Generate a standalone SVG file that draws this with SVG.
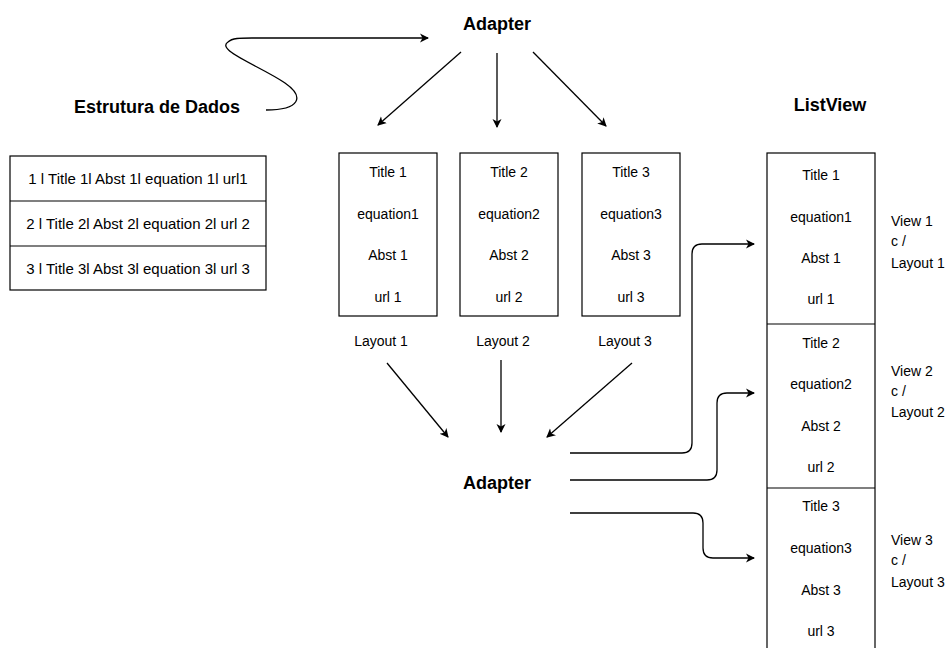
<svg xmlns="http://www.w3.org/2000/svg" width="948" height="648" viewBox="0 0 948 648">
<defs>
<marker id="ah" markerWidth="10" markerHeight="10" refX="8" refY="5" orient="auto" markerUnits="userSpaceOnUse">
<path d="M0,0.5 L9,5 L0,9.5 L2.5,5 Z" fill="#000"/>
</marker>
<style>
.t{font-family:"Liberation Sans",Arial,Helvetica,sans-serif;font-size:14px;fill:#000;text-anchor:middle}
.tt{font-family:"Liberation Sans",Arial,Helvetica,sans-serif;font-size:15px;fill:#000;text-anchor:middle}
.l{font-family:"Liberation Sans",Arial,Helvetica,sans-serif;font-size:14px;fill:#000;text-anchor:start}
.b{font-family:"Liberation Sans",Arial,Helvetica,sans-serif;font-size:18px;font-weight:bold;fill:#000;text-anchor:middle}
.box{fill:#fff;stroke:#000;stroke-width:1.2}
.c{fill:none;stroke:#000;stroke-width:1.3;marker-end:url(#ah)}
</style>
</defs>
<rect width="948" height="648" fill="#fff"/>

<g id="estrutura-label"><text class="b" x="157" y="113">Estrutura de Dados</text></g>

<g id="table">
<rect class="box" x="10" y="156" width="256" height="134"/>
<line x1="10" y1="201" x2="266" y2="201" stroke="#000" stroke-width="1.2"/>
<line x1="10" y1="246" x2="266" y2="246" stroke="#000" stroke-width="1.2"/>
<text class="tt" x="138" y="184">1 l Title 1l Abst 1l equation 1l url1</text>
<text class="tt" x="138" y="229">2 l Title 2l Abst 2l equation 2l url 2</text>
<text class="tt" x="138" y="274">3 l Title 3l Abst 3l equation 3l url 3</text>
</g>

<g id="adapter-top"><text class="b" x="497" y="30">Adapter</text></g>

<g id="layout1">
<rect class="box" x="339" y="153" width="98" height="163"/>
<text class="t" x="388" y="177">Title 1</text>
<text class="t" x="388" y="219">equation1</text>
<text class="t" x="388" y="260">Abst 1</text>
<text class="t" x="388" y="302">url 1</text>
<text class="t" x="381" y="346">Layout 1</text>
</g>
<g id="layout2">
<rect class="box" x="460" y="153" width="98" height="163"/>
<text class="t" x="509" y="177">Title 2</text>
<text class="t" x="509" y="219">equation2</text>
<text class="t" x="509" y="260">Abst 2</text>
<text class="t" x="509" y="302">url 2</text>
<text class="t" x="503" y="346">Layout 2</text>
</g>
<g id="layout3">
<rect class="box" x="582" y="153" width="98" height="163"/>
<text class="t" x="631" y="177">Title 3</text>
<text class="t" x="631" y="219">equation3</text>
<text class="t" x="631" y="260">Abst 3</text>
<text class="t" x="631" y="302">url 3</text>
<text class="t" x="625" y="346">Layout 3</text>
</g>

<g id="adapter-bottom"><text class="b" x="497" y="489">Adapter</text></g>

<g id="listview-label"><text class="b" x="830" y="111">ListView</text></g>

<g id="listview">
<rect class="box" x="767" y="153" width="108" height="510"/>
<line x1="767" y1="324" x2="875" y2="324" stroke="#000" stroke-width="1.2"/>
<line x1="767" y1="488" x2="875" y2="488" stroke="#000" stroke-width="1.2"/>
<text class="t" x="821" y="180">Title 1</text>
<text class="t" x="821" y="222">equation1</text>
<text class="t" x="821" y="263">Abst 1</text>
<text class="t" x="821" y="304">url 1</text>
<text class="t" x="821" y="348">Title 2</text>
<text class="t" x="821" y="389">equation2</text>
<text class="t" x="821" y="431">Abst 2</text>
<text class="t" x="821" y="472">url 2</text>
<text class="t" x="821" y="511">Title 3</text>
<text class="t" x="821" y="553">equation3</text>
<text class="t" x="821" y="595">Abst 3</text>
<text class="t" x="821" y="636">url 3</text>
</g>

<g id="view1-label">
<text class="l" x="891" y="226">View 1</text>
<text class="l" x="891" y="246">c /</text>
<text class="l" x="891" y="268">Layout 1</text>
</g>
<g id="view2-label">
<text class="l" x="891" y="376">View 2</text>
<text class="l" x="891" y="396">c /</text>
<text class="l" x="891" y="417">Layout 2</text>
</g>
<g id="view3-label">
<text class="l" x="891" y="545">View 3</text>
<text class="l" x="891" y="565">c /</text>
<text class="l" x="891" y="587">Layout 3</text>
</g>

<g id="connectors">
<path class="c" d="M266,110 C300,110 305,97 285,83 C262,67 215,50 228,42 C232,38 240,38 252,38 L428,38"/>
<path class="c" d="M461,52 L378,125"/>
<path class="c" d="M497,53 L497,127"/>
<path class="c" d="M533,52 L606,126"/>
<path class="c" d="M387,363 L448,437"/>
<path class="c" d="M501,360 L501,432"/>
<path class="c" d="M632,363 L547,437"/>
<path class="c" d="M570,453 L682,453 Q692,453 692,443 L692,254 Q692,244 702,244 L754,244"/>
<path class="c" d="M570,480 L707,480 Q717,480 717,470 L717,403 Q717,393 727,393 L754,393"/>
<path class="c" d="M570,513 L693,513 Q703,513 703,523 L703,548 Q703,558 713,558 L754,558"/>
</g>
</svg>
